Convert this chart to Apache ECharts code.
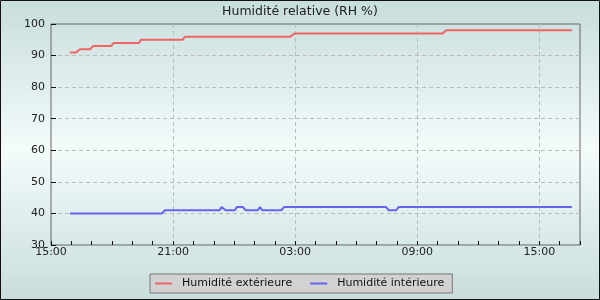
<!DOCTYPE html>
<html><head><meta charset="utf-8">
<script src="https://cdn.jsdelivr.net/npm/echarts@6/dist/echarts.min.js"></script>
<style>html,body{margin:0;padding:0;background:#fff}#c{width:600px;height:300px}</style>
</head><body><div id="c"></div><script>
const titleText = 'Humidité relative (RH %)';
const seriesNames = ['Humidité extérieure', 'Humidité intérieure'];
const startTime = '2024-06-01 15:00';
const endTime = '2024-06-02 17:00';
const tickLabels = ['15:00', '21:00', '03:00', '09:00', '15:00'];

const outsideTimes = ['2024-06-01 15:56','2024-06-01 16:14','2024-06-01 16:25','2024-06-01 16:55','2024-06-01 17:04','2024-06-01 17:57','2024-06-01 18:05','2024-06-01 19:19','2024-06-01 19:25','2024-06-01 21:28','2024-06-01 21:35','2024-06-02 02:46','2024-06-02 02:58','2024-06-02 10:15','2024-06-02 10:25','2024-06-02 16:36'];
const outsideValues = [91, 91, 92, 92, 93, 93, 94, 94, 95, 95, 96, 96, 97, 97, 98, 98];

const insideTimes = ['2024-06-01 15:56','2024-06-01 20:27','2024-06-01 20:36','2024-06-01 23:17','2024-06-01 23:23','2024-06-01 23:35','2024-06-02 00:02','2024-06-02 00:08','2024-06-02 00:26','2024-06-02 00:34','2024-06-02 01:10','2024-06-02 01:16','2024-06-02 01:23','2024-06-02 02:19','2024-06-02 02:27','2024-06-02 07:28','2024-06-02 07:36','2024-06-02 07:58','2024-06-02 08:05','2024-06-02 16:36'];
const insideValues = [40, 40, 41, 41, 42, 41, 41, 42, 42, 41, 41, 42, 41, 41, 42, 42, 41, 41, 42, 42];

function ts(s) { return Date.parse(s.replace(' ', 'T') + ':00Z'); }
const t0 = ts(startTime);
function toHours(s) { return (ts(s) - t0) / 3600000; }
const spanHours = toHours(endTime);
const outsideData = outsideTimes.map((t, i) => [toHours(t), outsideValues[i]]);
const insideData = insideTimes.map((t, i) => [toHours(t), insideValues[i]]);

const font = 'DejaVu Sans';
const chart = echarts.init(document.getElementById('c'), null, {renderer: 'canvas'});
chart.setOption({
  animation: false,
  backgroundColor: {type: 'linear', x: 0, y: 0, x2: 0, y2: 1, colorStops: [
    {offset: 0, color: '#c8dddd'}, {offset: 0.5, color: '#f4fbfb'}, {offset: 1, color: '#c8dddd'}]},
  textStyle: {fontFamily: font},
  title: {text: titleText, left: 'center', top: 5, padding: 0,
    textStyle: {fontSize: 12.5, fontWeight: 'normal', color: '#222', fontFamily: font}},
  grid: {left: 51, top: 24, right: 20, bottom: 55, show: true, borderColor: '#666', borderWidth: 1, backgroundColor: 'transparent'},
  legend: {left: 150, top: 274, icon: 'rect', itemWidth: 17, itemHeight: 2, itemGap: 18,
    padding: [4, 8, 4, 5], backgroundColor: '#d2d2d2', borderColor: '#777', borderWidth: 1, borderRadius: 0,
    textStyle: {fontSize: 11, color: '#111', fontFamily: font, padding: [0, 0, 0, 5]},
    data: seriesNames},
  xAxis: [
    {type: 'value', position: 'bottom', min: 0, max: spanHours, interval: 6,
      axisLine: {show: false}, axisTick: {show: false},
      axisLabel: {margin: 2, fontSize: 11, color: '#222', fontFamily: font,
        formatter: v => (v % 6 === 0 ? tickLabels[v / 6] : '')},
      splitLine: {show: true, showMinLine: false, showMaxLine: false, lineStyle: {color: '#bbb', type: [4, 3], width: 1}}},
    {type: 'value', position: 'bottom', min: 0, max: spanHours, interval: 1,
      axisLine: {show: false}, axisLabel: {show: false}, splitLine: {show: false},
      axisTick: {show: true, inside: true, length: 4, lineStyle: {color: '#111'}}}
  ],
  yAxis: {type: 'value', min: 30, max: 100, interval: 10,
    axisLine: {show: false},
    axisTick: {show: true, inside: true, length: 5, lineStyle: {color: '#111'}},
    axisLabel: {margin: 6, fontSize: 11, color: '#222', fontFamily: font},
    splitLine: {show: true, showMinLine: false, showMaxLine: false, lineStyle: {color: '#bbb', type: [4, 3], width: 1}}},
  series: [
    {name: seriesNames[0], type: 'line', xAxisIndex: 0, data: outsideData, symbol: 'none', color: '#f06464', lineStyle: {width: 2, color: '#f06464'}},
    {name: seriesNames[1], type: 'line', xAxisIndex: 0, data: insideData, symbol: 'none', color: '#6464f0', lineStyle: {width: 2, color: '#6464f0'}}
  ],
  graphic: [{type: 'rect', shape: {x: 0.5, y: 0.5, width: 599, height: 299}, style: {fill: 'none', stroke: '#111', lineWidth: 1}, silent: true, z: 100}]
});
</script></body></html>
